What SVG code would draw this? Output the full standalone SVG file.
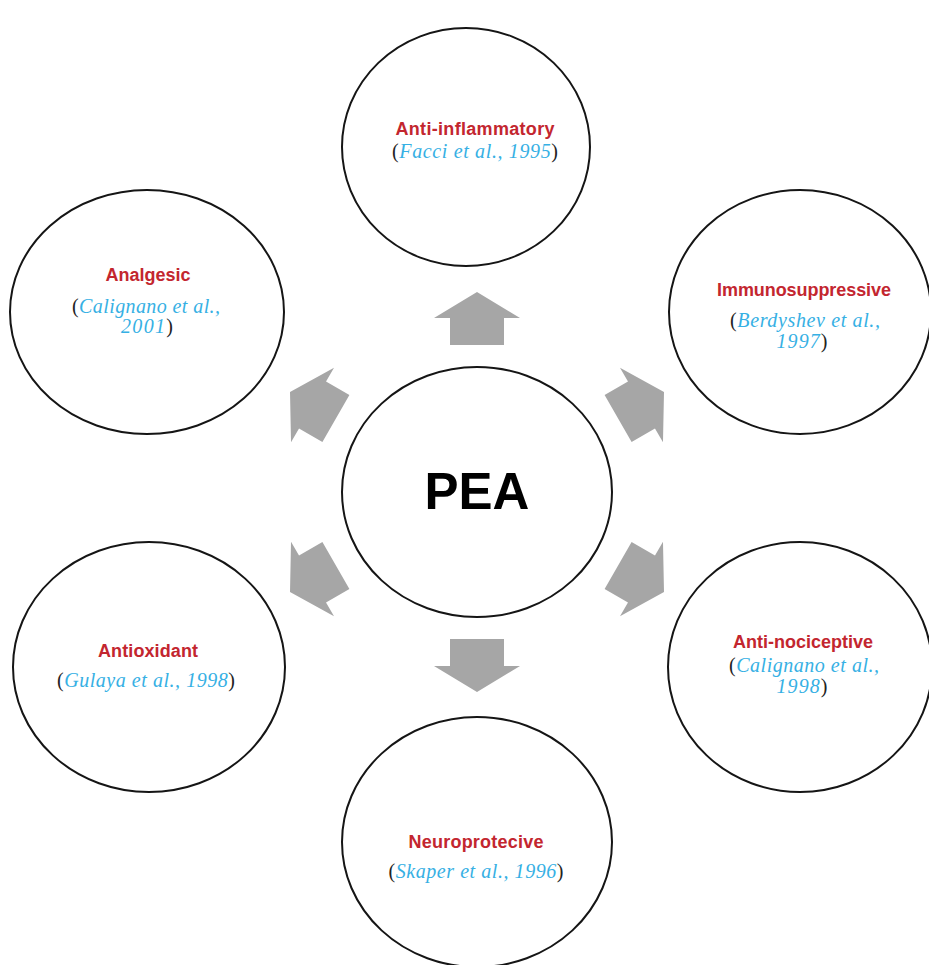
<svg xmlns="http://www.w3.org/2000/svg" xmlns:xlink="http://www.w3.org/1999/xlink" width="929" height="965" viewBox="0 0 929 965">
  <style>
    .node { fill: #ffffff; stroke: #151515; stroke-width: 2; }
    .title { font-family: "Liberation Sans", Arial, sans-serif; font-weight: bold; font-size: 18px; fill: #c3262f; text-anchor: middle; }
    .cite { font-family: "Liberation Serif", "Times New Roman", serif; font-style: italic; font-size: 20px; fill: #36b0e4; text-anchor: middle; }
    .par { font-style: normal; fill: #222222; }
    .pea { font-family: "Liberation Sans", Arial, sans-serif; font-weight: bold; font-size: 51px; fill: #000000; text-anchor: middle; }
    .arrow { fill: #a6a6a6; stroke: none; }
  </style>
  <defs>
    <path id="arr" d="M0,0 L-26,-43 L-26,-27 L-53,-27 L-53,27 L-26,27 L-26,43 Z"/>
  </defs>
  <rect width="929" height="965" fill="#ffffff"/>

  <g id="connectors" class="arrow">
    <use xlink:href="#arr" href="#arr" transform="translate(477,292) rotate(-90)"/>
    <use xlink:href="#arr" href="#arr" transform="translate(664,392) rotate(-30)"/>
    <use xlink:href="#arr" href="#arr" transform="translate(664,592) rotate(30)"/>
    <use xlink:href="#arr" href="#arr" transform="translate(477,692) rotate(90)"/>
    <use xlink:href="#arr" href="#arr" transform="translate(290,592) rotate(150)"/>
    <use xlink:href="#arr" href="#arr" transform="translate(290,392) rotate(210)"/>
  </g>

  <g id="pea">
    <ellipse class="node" cx="477" cy="492" rx="135" ry="125"/>
    <text class="pea" x="477" y="509">PEA</text>
  </g>

  <g id="anti-inflammatory">
    <ellipse class="node" cx="466" cy="147" rx="124" ry="119"/>
    <text class="title" x="475" y="135" textLength="159">Anti-inflammatory</text>
    <text class="cite" x="475" y="158" textLength="166"><tspan class="par">(</tspan>Facci et al., 1995<tspan class="par">)</tspan></text>
  </g>

  <g id="immunosuppressive">
    <ellipse class="node" cx="800" cy="312" rx="131" ry="122"/>
    <text class="title" x="804" y="296" textLength="174">Immunosuppressive</text>
    <text class="cite" x="805" y="327" textLength="150"><tspan class="par">(</tspan>Berdyshev et al.,</text>
    <text class="cite" x="802" y="348" textLength="51">1997<tspan class="par">)</tspan></text>
  </g>

  <g id="anti-nociceptive">
    <ellipse class="node" cx="800" cy="667" rx="132" ry="125"/>
    <text class="title" x="803" y="648" textLength="140">Anti-nociceptive</text>
    <text class="cite" x="804" y="672" textLength="150"><tspan class="par">(</tspan>Calignano et al.,</text>
    <text class="cite" x="802" y="693" textLength="51">1998<tspan class="par">)</tspan></text>
  </g>

  <g id="neuroprotecive">
    <ellipse class="node" cx="477" cy="842" rx="135" ry="125"/>
    <text class="title" x="476" y="848" textLength="135">Neuroprotecive</text>
    <text class="cite" x="476" y="878" textLength="175"><tspan class="par">(</tspan>Skaper et al., 1996<tspan class="par">)</tspan></text>
  </g>

  <g id="antioxidant">
    <ellipse class="node" cx="149" cy="667" rx="136" ry="125"/>
    <text class="title" x="148" y="657" textLength="100">Antioxidant</text>
    <text class="cite" x="146" y="687" textLength="178"><tspan class="par">(</tspan>Gulaya et al., 1998<tspan class="par">)</tspan></text>
  </g>

  <g id="analgesic">
    <ellipse class="node" cx="147" cy="312" rx="137" ry="122"/>
    <text class="title" x="148" y="281">Analgesic</text>
    <text class="cite" x="146" y="313" textLength="148"><tspan class="par">(</tspan>Calignano et al.,</text>
    <text class="cite" x="147" y="333" textLength="52">2001<tspan class="par">)</tspan></text>
  </g>
</svg>
